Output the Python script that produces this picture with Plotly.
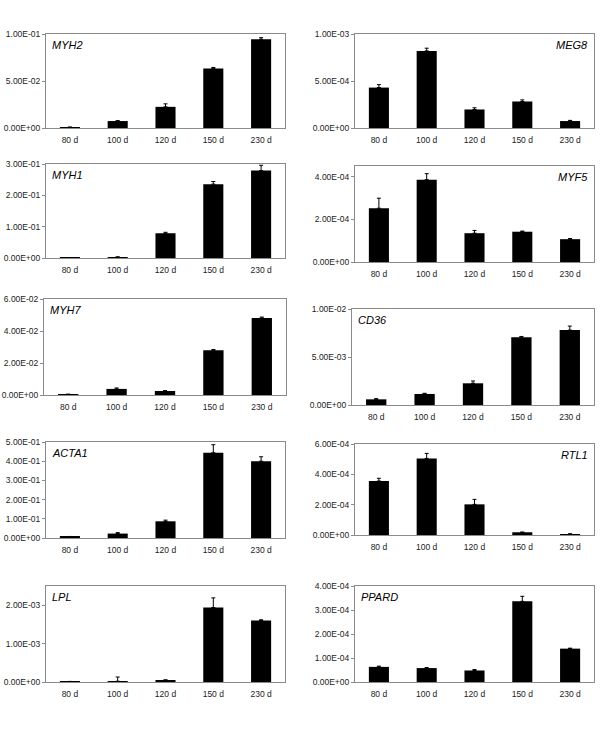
import plotly.graph_objects as go

categories = ["80 d", "100 d", "120 d", "150 d", "230 d"]

genes = ["MYH2", "MEG8", "MYH1", "MYF5", "MYH7", "CD36", "ACTA1", "RTL1", "LPL", "PPARD"]

myh2_mean = [0.0008, 0.0074, 0.0225, 0.0634, 0.0944]
myh2_sd = [0.0002, 0.0004, 0.0032, 0.0010, 0.0017]
meg8_mean = [4.30e-4, 8.20e-4, 1.97e-4, 2.82e-4, 7.4e-5]
meg8_sd = [3.1e-5, 2.9e-5, 1.8e-5, 1.7e-5, 7e-6]
myh1_mean = [0.0005, 0.003, 0.079, 0.2356, 0.279]
myh1_sd = [0.0002, 0.0005, 0.003, 0.0085, 0.017]
myf5_mean = [2.52e-4, 3.86e-4, 1.35e-4, 1.42e-4, 1.07e-4]
myf5_sd = [4.7e-5, 2.8e-5, 1.3e-5, 3e-6, 3e-6]
myh7_mean = [0.0004, 0.0038, 0.0025, 0.0280, 0.0481]
myh7_sd = [0.0001, 0.0006, 0.0002, 0.0004, 0.0006]
cd36_mean = [5.9e-4, 1.15e-3, 2.26e-3, 7.07e-3, 7.80e-3]
cd36_sd = [7e-5, 7e-5, 2.4e-4, 7e-5, 4.2e-4]
acta1_mean = [0.007, 0.023, 0.087, 0.444, 0.400]
acta1_sd = [0.001, 0.005, 0.006, 0.042, 0.023]
rtl1_mean = [3.56e-4, 5.05e-4, 2.02e-4, 1.8e-5, 6.6e-6]
rtl1_sd = [1.8e-5, 3.3e-5, 3.3e-5, 1e-6, 1e-6]
lpl_mean = [1e-5, 2e-5, 5e-5, 1.94e-3, 1.60e-3]
lpl_sd = [5e-6, 1.1e-4, 5e-6, 2.5e-4, 2e-5]
ppard_mean = [6.3e-5, 5.8e-5, 4.8e-5, 3.36e-4, 1.39e-4]
ppard_sd = [3e-6, 2e-6, 4e-6, 2.1e-5, 2e-6]

means = [myh2_mean, meg8_mean, myh1_mean, myf5_mean, myh7_mean,
         cd36_mean, acta1_mean, rtl1_mean, lpl_mean, ppard_mean]
sds = [myh2_sd, meg8_sd, myh1_sd, myf5_sd, myh7_sd,
       cd36_sd, acta1_sd, rtl1_sd, lpl_sd, ppard_sd]

# axis max and tick step per panel
y_max = [0.1, 1e-3, 0.3, 4.5e-4, 0.06, 1e-2, 0.5, 6e-4, 2.5e-3, 4e-4]
y_step = [0.05, 5e-4, 0.1, 2e-4, 0.02, 5e-3, 0.1, 2e-4, 1e-3, 1e-4]
label_right = [False, True, False, True, False, False, False, True, False, False]

# plot-area boxes in pixels: (x0, x1, y0_top, y1_bottom)
W, H = 600, 731
boxes = [
    (46, 285, 34, 128), (355, 594, 34, 128),
    (46, 285, 164, 258), (355, 594, 166, 262),
    (44, 286, 299, 395), (352, 594, 309, 405),
    (46, 285, 442, 538), (355, 594, 444, 535),
    (46, 285, 586, 682), (355, 594, 586, 682),
]

fig = go.Figure()
layout = dict(
    template="none",
    width=W, height=H, autosize=False,
    margin=dict(l=0, r=0, t=0, b=0, pad=0, autoexpand=False),
    paper_bgcolor="white", plot_bgcolor="white",
    showlegend=False,
    font=dict(family="Liberation Sans, Arial, sans-serif", size=8, color="#222"),
    annotations=[],
)

for i in range(10):
    n = i + 1
    xa = "x" if n == 1 else f"x{n}"
    ya = "y" if n == 1 else f"y{n}"
    fig.add_trace(go.Bar(
        x=categories, y=means[i], xaxis=xa, yaxis=ya,
        marker=dict(color="black", line=dict(width=0)),
        width=0.42,
        error_y=dict(type="data", symmetric=False, array=sds[i],
                     arrayminus=[0] * len(sds[i]),
                     color="black", thickness=1, width=2),
    ))
    x0, x1, yt, yb = boxes[i]
    nt = int(round(y_max[i] / y_step[i]))
    tv = [k * y_step[i] for k in range(nt + 1) if k * y_step[i] <= y_max[i] * 1.0001]
    tt = ["{:.2E}".format(v) for v in tv]
    key_x = "xaxis" if n == 1 else f"xaxis{n}"
    key_y = "yaxis" if n == 1 else f"yaxis{n}"
    layout[key_x] = dict(
        domain=[x0 / W, x1 / W], anchor=ya, automargin=False,
        showline=True, linecolor="#8a8a8a", linewidth=1, mirror=True,
        showgrid=False, zeroline=False,
        ticks="outside", ticklen=4, tickcolor="rgba(0,0,0,0)",
        tickfont=dict(size=8.5, color="#222"), fixedrange=True,
    )
    layout[key_y] = dict(
        domain=[1 - yb / H, 1 - yt / H], anchor=xa, automargin=False,
        range=[0, y_max[i]],
        tickvals=tv, ticktext=tt,
        showline=True, linecolor="#8a8a8a", linewidth=1, mirror=True,
        showgrid=False, zeroline=False,
        ticks="outside", ticklen=3, tickcolor="#8a8a8a",
        tickfont=dict(size=8.5, color="#222"), fixedrange=True,
    )
    xd = "x domain" if n == 1 else f"x{n} domain"
    yd = "y domain" if n == 1 else f"y{n} domain"
    if label_right[i]:
        ann = dict(x=0.985, xanchor="right")
    else:
        ann = dict(x=0.015, xanchor="left")
    ann.update(dict(xref=xd, yref=yd, y=0.97, yanchor="top",
                    text=f"<i>{genes[i]}</i>", showarrow=False,
                    font=dict(size=11, color="black",
                              family="Liberation Sans, Arial, sans-serif")))
    layout["annotations"].append(ann)

fig.update_layout(**layout)
fig.write_html("out.html", config={"displayModeBar": False})

# remove default page margins so the figure sits at the window origin
with open("out.html", "r", encoding="utf-8") as f:
    html = f.read()
html = html.replace("<head>", "<head><style>html,body{margin:0;padding:0;overflow:hidden;}</style>", 1)
with open("out.html", "w", encoding="utf-8") as f:
    f.write(html)
